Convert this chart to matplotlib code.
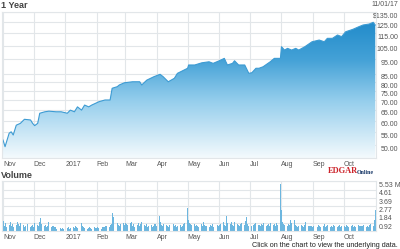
import matplotlib
matplotlib.use('Agg')
import matplotlib.pyplot as plt
import matplotlib.transforms as mtransforms
from matplotlib.colors import LinearSegmentedColormap
import numpy as np
import pandas as pd

plt.rcParams['font.family'] = ['Liberation Sans', 'DejaVu Sans']

# --- data ---
price_dates = ['2016-11-01', '2016-11-03', '2016-11-07', '2016-11-09', '2016-11-11', '2016-11-14',
               '2016-11-18', '2016-11-22', '2016-11-28', '2016-11-30', '2016-12-02', '2016-12-05',
               '2016-12-07', '2016-12-12', '2016-12-16', '2016-12-23', '2016-12-28', '2017-01-03',
               '2017-01-06', '2017-01-10', '2017-01-13', '2017-01-17', '2017-01-20', '2017-01-24',
               '2017-01-27', '2017-02-01', '2017-02-03', '2017-02-09', '2017-02-14', '2017-02-16',
               '2017-02-21', '2017-02-23', '2017-02-28', '2017-03-08', '2017-03-15', '2017-03-17',
               '2017-03-22', '2017-03-29', '2017-04-04', '2017-04-07', '2017-04-12', '2017-04-18',
               '2017-04-21', '2017-05-01', '2017-05-02', '2017-05-08', '2017-05-15', '2017-05-22',
               '2017-05-26', '2017-06-01', '2017-06-06', '2017-06-09', '2017-06-14', '2017-06-16',
               '2017-06-20', '2017-06-26', '2017-06-30', '2017-07-03', '2017-07-07', '2017-07-10',
               '2017-07-14', '2017-07-21', '2017-07-25', '2017-07-31', '2017-08-01', '2017-08-04',
               '2017-08-07', '2017-08-11', '2017-08-15', '2017-08-18', '2017-08-24', '2017-08-31',
               '2017-09-07', '2017-09-12', '2017-09-15', '2017-09-20', '2017-09-25', '2017-09-29',
               '2017-10-03', '2017-10-10', '2017-10-16', '2017-10-20', '2017-10-26', '2017-10-30',
               '2017-11-01']
price_values = [51.9, 49.4, 54.6, 55.2, 53.9, 58.0,
                58.8, 60.6, 60.3, 58.8, 57.8, 58.8,
                63.4, 64.1, 64.4, 64.1, 64.1, 63.4,
                64.9, 64.1, 66.5, 64.9, 67.4, 66.5,
                67.4, 68.6, 69.1, 70.0, 70.0, 76.4,
                77.3, 78.3, 79.6, 80.2, 80.2, 78.3,
                81.2, 83.3, 84.8, 83.3, 80.2, 82.3,
                85.4, 88.7, 90.9, 90.9, 92.4, 93.1,
                92.0, 93.8, 95.5, 90.9, 92.0, 93.8,
                90.9, 90.9, 85.4, 85.8, 88.7, 88.7,
                89.7, 93.1, 95.5, 95.5, 104.2, 101.6,
                102.9, 101.6, 102.9, 101.6, 104.2, 108.1,
                109.5, 108.1, 110.9, 110.9, 113.7, 112.3,
                116.5, 118.6, 121.0, 122.5, 123.4, 125.0,
                122.5]

price_ticks = [50, 55, 60, 65, 70, 75, 80, 85, 95, 105, 115, 125, 135]
price_labels = ['50.00', '55.00', '60.00', '65.00', '70.00', '75.00', '80.00', '85.00',
                '95.00', '105.00', '115.00', '125.00', '$135.00']
vol_ticks = [0.92, 1.84, 2.77, 3.69, 4.61, 5.53]
vol_labels = ['0.92', '1.84', '2.77', '3.69', '4.61', '5.53 M']
month_labels = ['Nov', 'Dec', '2017', 'Feb', 'Mar', 'Apr', 'May', 'Jun', 'Jul', 'Aug', 'Sep', 'Oct']

# market holidays in the range
holidays = ['2016-11-24', '2016-12-26', '2017-01-02', '2017-01-16', '2017-02-20',
            '2017-04-14', '2017-05-29', '2017-07-04', '2017-09-04']

# daily volume in millions, one list per month
vol_nov = [1.2, 0.6, 0.9, 0.5, 0.7, 1.0, 0.6, 0.8, 0.5, 0.7, 1.1, 0.8, 0.6, 0.9, 0.7, 0.5, 0.6, 0.8, 0.5, 0.6, 0.7]
vol_dec = [0.5, 0.9, 0.7, 0.6, 1.1, 1.5, 0.8, 0.6, 0.7, 0.5, 0.6, 1.0, 0.5, 0.6, 0.4, 0.5, 0.3, 0.4, 0.3, 0.4, 0.3]
vol_jan = [0.4, 0.5, 0.3, 0.4, 0.5, 0.4, 0.6, 0.5, 0.4, 0.9, 0.6, 0.5, 0.4, 0.3, 0.4, 0.5, 0.4, 0.3, 0.5, 0.4]
vol_feb = [0.4, 0.5, 0.4, 0.3, 0.5, 0.4, 0.5, 0.6, 0.5, 0.7, 0.8, 2.05, 1.55, 0.9, 0.7, 0.6, 0.8, 0.9, 0.7]
vol_mar = [0.9, 0.8, 0.7, 0.9, 1.0, 0.6, 0.8, 0.5, 0.7, 0.9, 0.6, 0.8, 1.1, 0.7, 0.6, 0.8, 0.5, 0.6, 0.7, 0.5, 0.6, 0.8, 0.6]
vol_apr = [1.7, 1.0, 0.7, 0.6, 0.8, 0.7, 0.6, 0.5, 0.7, 0.8, 0.6, 0.7, 0.5, 0.6, 0.7, 0.5, 0.6, 0.8, 0.9]
vol_may = [2.6, 1.3, 0.9, 0.8, 0.7, 0.8, 0.6, 0.7, 0.6, 0.5, 0.8, 0.6, 1.0, 0.7, 0.6, 0.5, 0.7, 0.6, 0.8, 0.5, 0.7, 0.6]
vol_jun = [0.7, 0.8, 1.0, 0.7, 0.6, 1.7, 0.9, 0.8, 1.0, 0.7, 0.6, 1.0, 0.8, 0.7, 0.6, 0.8, 0.9, 0.7, 1.2, 1.6, 0.8, 0.6]
vol_jul = [0.6, 0.7, 0.8, 0.9, 0.7, 0.6, 0.8, 0.7, 0.9, 0.6, 0.7, 0.8, 0.6, 0.9, 0.7, 0.8, 0.6, 0.9, 0.7, 5.2]
vol_aug = [2.35, 1.1, 0.8, 0.7, 0.6, 0.8, 0.7, 1.3, 0.9, 1.3, 0.7, 0.6, 0.5, 0.6, 0.7, 0.6, 0.5, 0.7, 1.1, 0.6, 0.5, 0.6, 0.5]
vol_sep = [0.6, 0.5, 0.7, 0.6, 0.5, 0.6, 0.8, 0.5, 0.6, 0.7, 0.5, 0.6, 0.5, 0.7, 0.6, 0.5, 0.6, 0.7, 0.5, 0.6]
vol_oct = [0.6, 0.5, 0.7, 0.6, 0.5, 0.6, 0.7, 0.5, 0.6, 0.5, 0.7, 0.6, 0.5, 0.6, 0.7, 0.5, 0.6, 0.5, 0.7, 0.8, 0.6, 1.3]
vol_nov17 = [2.4]

volumes = (vol_nov + vol_dec + vol_jan + vol_feb + vol_mar + vol_apr + vol_may +
           vol_jun + vol_jul + vol_aug + vol_sep + vol_oct + vol_nov17)
trade_days = pd.bdate_range('2016-11-01', '2017-11-01')
trade_days = trade_days[~trade_days.isin(pd.to_datetime(holidays))]

pdates = pd.to_datetime(price_dates)
month_starts = pd.date_range('2016-11-01', '2017-10-01', freq='MS')
x0 = pd.Timestamp('2016-10-31')
x1 = pd.Timestamp('2017-11-01') + pd.Timedelta(hours=17)

grid_c = '#e2e6e9'
txt_c = '#555555'

fig = plt.figure(figsize=(4, 2.49), dpi=100)
ax1 = fig.add_axes([0.005, 0.3655, 0.935, 0.5863])
ax2 = fig.add_axes([0.005, 0.0703, 0.935, 0.2008])


def shift(labels, dx, dy):
    for t in labels:
        t.set_transform(t.get_transform() + mtransforms.ScaledTranslation(dx / 100, dy / 100, fig.dpi_scale_trans))


# price panel
ymin, ymax = 45.4, 135
ax1.set_yscale('log')
poly = ax1.fill_between(pdates, price_values, ymin, facecolor='none', edgecolor='none')
cmap = LinearSegmentedColormap.from_list('g', [(0, '#f4fafd'), (0.4, '#93cdec'),
                                               (0.67, '#45a2d7'), (1, '#1885c7')])
grad = np.linspace(0, 1, 256).reshape(-1, 1)
im = ax1.imshow(grad, aspect='auto', extent=[0, 1, 0, 1], origin='lower', cmap=cmap,
                transform=ax1.transAxes, zorder=1)
im.set_clip_path(poly.get_paths()[0], transform=ax1.transData)
ax1.plot(pdates, price_values, color='#3d9bd3', lw=0.8, zorder=2)
ax1.set_xlim(x0, x1)
ax1.set_ylim(ymin, ymax)

# volume panel
ax2.bar(trade_days, volumes, width=1.05, color='#6cb6df', linewidth=0, antialiased=False, zorder=2)
ax2.set_xlim(x0, x1)
ax2.set_ylim(0, 5.53)

for ax in (ax1, ax2):
    ax.set_xticks(month_starts)
    ax.set_xticklabels(month_labels)
    ax.grid(True, color=grid_c, lw=0.8, zorder=0)
    ax.set_axisbelow(True)
    ax.yaxis.tick_right()
    ax.tick_params(length=0, labelsize=5, colors=txt_c)
    for s in ax.spines.values():
        s.set_color(grid_c)
        s.set_linewidth(0.8)
    for t in ax.get_xticklabels():
        t.set_ha('left')
    shift(ax.get_xticklabels(), 1, 0)

ax1.yaxis.set_minor_locator(matplotlib.ticker.NullLocator())
ax1.set_yticks(price_ticks)
ax1.set_yticklabels(price_labels)
ax1.tick_params(axis='y', pad=15.8)
ax1.tick_params(axis='x', pad=2.5)
for t in ax1.get_yticklabels():
    t.set_ha('right')
shift(ax1.get_yticklabels(), 0, -3)

ax2.set_yticks(vol_ticks)
ax2.set_yticklabels(vol_labels)
ax2.tick_params(axis='y', pad=2)
ax2.tick_params(axis='x', pad=1.8)
shift(ax2.get_yticklabels(), 0, -3)

# titles and notes
fig.text(0.003, 1 - 6 / 249, '1 Year', fontsize=6.5, fontweight='bold', color='#444444', va='center')
fig.text(0.995, 1 - 5 / 249, '11/01/17', fontsize=5, color=txt_c, va='center', ha='right')
fig.text(0.003, 1 - 175 / 249, 'Volume', fontsize=6.5, fontweight='bold', color='#444444', va='center')
fig.text(0.995, 1 - 245 / 249, 'Click on the chart to view the underlying data.', fontsize=5.2,
         color='#222222', va='center', ha='right')
fig.text(328 / 400, 1 - 171 / 249, 'EDGAR', fontsize=6, fontweight='bold', color='#cc2229',
         family='Liberation Serif', va='center')
fig.text(357 / 400, 1 - 172 / 249, 'Online', fontsize=4.3, fontweight='bold', color='#1d3c6b',
         family='Liberation Serif', va='center')

fig.savefig('out.png', dpi=100)
